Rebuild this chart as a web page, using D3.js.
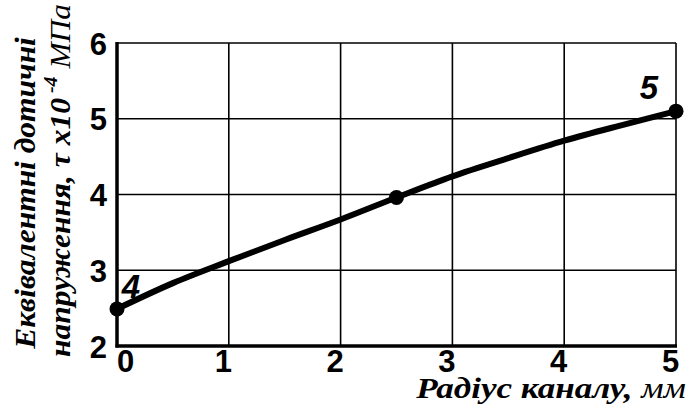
<!DOCTYPE html>
<html>
<head>
<meta charset="utf-8">
<script src="https://cdn.jsdelivr.net/npm/d3@7"></script>
<style>
  body { margin: 0; background: #fff; }
  svg text { fill: #000; }
</style>
</head>
<body>
<svg id="chart" width="687" height="412"></svg>
<script>
// curve values
var radius = [0, 0.5, 1, 1.5, 2, 2.5, 3, 3.5, 4, 4.5, 5];
var stress = [2.49, 2.83, 3.12, 3.40, 3.67, 3.96, 4.24, 4.48, 4.71, 4.91, 5.10];
var markIdx = [0, 5, 10];
var markLabels = [{i: 0, text: "4"}, {i: 10, text: "5"}];
var xTicks = [0, 1, 2, 3, 4, 5];
var yTicks = [2, 3, 4, 5, 6];

var margin = {top: 43, right: 11, bottom: 66, left: 117};
var width = 687 - margin.left - margin.right,
    height = 412 - margin.top - margin.bottom;

var svg = d3.select("#chart");
var g = svg.append("g").attr("transform", "translate(" + margin.left + "," + margin.top + ")");

var x = d3.scaleLinear().domain([0, 5]).range([0, width]);
var y = d3.scaleLinear().domain([2, 6]).range([height, 0]);

// grid
g.append("g").selectAll("line").data(xTicks.slice(1)).enter().append("line")
  .attr("x1", function(d) { return x(d); }).attr("x2", function(d) { return x(d); })
  .attr("y1", 0).attr("y2", height)
  .attr("stroke", "#000").attr("stroke-width", 1.6);
g.append("g").selectAll("line").data(yTicks.slice(1)).enter().append("line")
  .attr("x1", 0).attr("x2", width)
  .attr("y1", function(d) { return y(d); }).attr("y2", function(d) { return y(d); })
  .attr("stroke", "#000").attr("stroke-width", 1.6);

// axes
var xAxis = d3.axisBottom(x).tickValues(xTicks).tickSize(0).tickPadding(4).tickFormat(d3.format("d"));
var yAxis = d3.axisLeft(y).tickValues(yTicks).tickSize(0).tickPadding(10).tickFormat(d3.format("d"));

var gx = g.append("g").attr("transform", "translate(0," + height + ")").call(xAxis);
var gy = g.append("g").call(yAxis);
[gx, gy].forEach(function(a) {
  a.select(".domain").remove();
  a.selectAll("text")
    .attr("font-family", "'Liberation Sans', Arial, sans-serif")
    .attr("font-weight", "bold")
    .attr("font-size", 31)
    .attr("fill", "#000");
});
gx.selectAll("text").attr("dx", function(d) { return d == 0 ? 8 : -6; }).attr("dy", "0.72em");
gy.selectAll("text").attr("dy", "0.36em");

g.append("line").attr("x1", 0).attr("x2", 0).attr("y1", -1).attr("y2", height + 1.5)
  .attr("stroke", "#000").attr("stroke-width", 3.5);
g.append("line").attr("x1", -1.5).attr("x2", width + 1).attr("y1", height).attr("y2", height)
  .attr("stroke", "#000").attr("stroke-width", 3.5);

// curve
var line = d3.line()
  .x(function(d, i) { return x(radius[i]); })
  .y(function(d) { return y(d); })
  .curve(d3.curveMonotoneX);

g.append("path").datum(stress)
  .attr("d", line)
  .attr("fill", "none").attr("stroke", "#000").attr("stroke-width", 6);

g.selectAll(".dot").data(markIdx).enter().append("circle")
  .attr("class", "dot")
  .attr("cx", function(i) { return x(radius[i]); })
  .attr("cy", function(i) { return y(stress[i]); })
  .attr("r", 7.5).attr("fill", "#000");

g.selectAll(".plabel").data(markLabels).enter().append("text")
  .attr("class", "plabel")
  .attr("x", function(d) { return x(radius[d.i]) + (d.i == 0 ? 14 : -27); })
  .attr("y", function(d) { return y(stress[d.i]) + (d.i == 0 ? -11 : -12); })
  .attr("text-anchor", "middle")
  .attr("font-family", "'Liberation Sans', Arial, sans-serif")
  .attr("font-weight", "bold").attr("font-style", "italic")
  .attr("font-size", 33)
  .text(function(d) { return d.text; });

// axis titles
var serif = "'Liberation Serif', 'Times New Roman', serif";
var xt = svg.append("text")
  .attr("transform", "translate(686,398) scale(1.17,1)")
  .attr("text-anchor", "end")
  .attr("font-family", serif).attr("font-style", "italic").attr("font-size", 30);
xt.append("tspan").attr("font-weight", "bold").text("Радіус каналу, ");
xt.append("tspan").text("мм");

var yt = svg.append("g").attr("transform", "translate(0,193) rotate(-90)");
yt.append("text")
  .attr("transform", "scale(1.05,1)")
  .attr("x", 0).attr("y", 35)
  .attr("text-anchor", "middle")
  .attr("font-family", serif).attr("font-style", "italic").attr("font-weight", "bold")
  .attr("font-size", 30)
  .text("Еквівалентні дотичні");
var yt2 = yt.append("text")
  .attr("transform", "scale(1.05,1)")
  .attr("x", 12).attr("y", 70)
  .attr("text-anchor", "middle")
  .attr("font-family", serif).attr("font-style", "italic")
  .attr("font-size", 30);
yt2.append("tspan").attr("font-weight", "bold").text("напруження, τ х10");
yt2.append("tspan").attr("font-weight", "bold").attr("font-size", 19).attr("dy", -13).text(" -4");
yt2.append("tspan").attr("dy", 13).text(" МПа");
</script>
</body>
</html>
